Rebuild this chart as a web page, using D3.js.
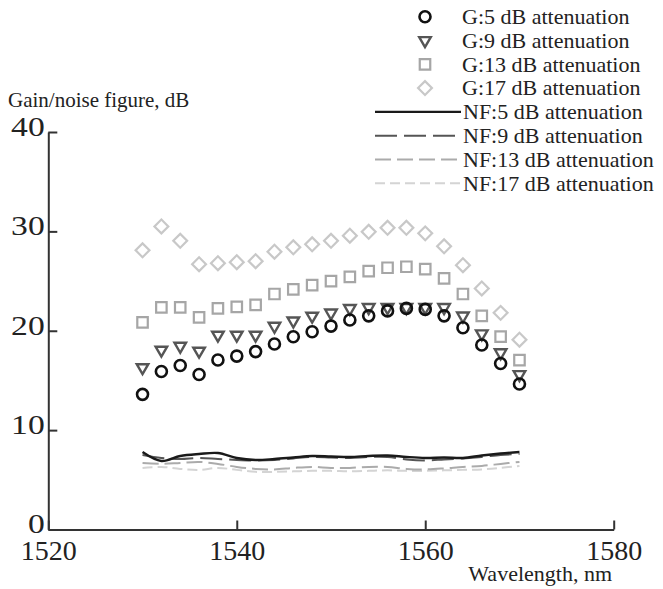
<!DOCTYPE html>
<html>
<head>
<meta charset="utf-8">
<script src="https://cdn.jsdelivr.net/npm/d3@7"></script>
<style>
  body { margin: 0; background: #fff; }
  svg text { font-family: "Liberation Serif", "Times New Roman", Times, "DejaVu Serif", serif; fill: #222; }
</style>
</head>
<body>
<div id="root"></div>
<script>
// wavelengths, nm
const wavelength = [1530, 1532, 1534, 1536, 1538, 1540, 1542, 1544, 1546, 1548, 1550,
                    1552, 1554, 1556, 1558, 1560, 1562, 1564, 1566, 1568, 1570];

// gain, dB
const g5  = [13.6, 15.9, 16.5, 15.6, 17.05, 17.45, 17.9, 18.66, 19.4, 19.9, 20.47,
             21.08, 21.5, 22.0, 22.25, 22.15, 21.5, 20.3, 18.56, 16.7, 14.64];
const g9  = [16.3, 18.06, 18.46, 17.96, 19.57, 19.57, 19.57, 20.47, 21.0, 21.48, 21.8,
             22.25, 22.35, 22.35, 22.35, 22.35, 22.35, 21.5, 19.7, 17.8, 15.6];
const g13 = [20.85, 22.35, 22.35, 21.35, 22.25, 22.4, 22.6, 23.7, 24.16, 24.6, 25.0,
             25.43, 26.0, 26.34, 26.44, 26.2, 25.27, 23.7, 21.5, 19.4, 17.05];
const g17 = [28.1, 30.5, 29.05, 26.7, 26.8, 26.9, 27.0, 27.95, 28.4, 28.7, 29.05,
             29.56, 29.96, 30.36, 30.36, 29.8, 28.5, 26.6, 24.26, 21.8, 19.1];

// noise figure, dB
const nf5  = [7.8, 6.9, 7.4, 7.6, 7.7, 7.2, 7.0, 7.1, 7.25, 7.4, 7.35,
              7.3, 7.4, 7.45, 7.3, 7.2, 7.25, 7.2, 7.45, 7.65, 7.8];
const nf9  = [7.5, 7.2, 7.1, 7.2, 7.1, 7.0, 6.95, 7.0, 7.15, 7.3, 7.25,
              7.2, 7.3, 7.3, 7.05, 6.95, 7.05, 7.15, 7.3, 7.5, 7.6];
const nf13 = [6.7, 6.6, 6.7, 6.8, 6.6, 6.3, 6.1, 6.05, 6.2, 6.3, 6.2,
              6.2, 6.3, 6.3, 6.1, 6.05, 6.15, 6.3, 6.4, 6.6, 6.8];
const nf17 = [6.2, 6.3, 6.1, 6.0, 6.2, 6.0, 5.8, 5.8, 5.85, 5.9, 5.9,
              5.85, 5.9, 5.95, 5.9, 5.9, 5.95, 6.0, 6.05, 6.2, 6.4];

const gainLabels = ["G:5 dB attenuation", "G:9 dB attenuation", "G:13 dB attenuation", "G:17 dB attenuation"];
const nfLabels = ["NF:5 dB attenuation", "NF:9 dB attenuation", "NF:13 dB attenuation", "NF:17 dB attenuation"];

const xTicks = [1520, 1540, 1560, 1580];
const yTicks = [0, 10, 20, 30, 40];

const width = 663, height = 589;
const plot = { left: 48.3, right: 613.7, bottom: 529.5, top: 132 };
const serif = "'Liberation Serif', 'Times New Roman', Times, serif";

const svg = d3.select("#root")
    .append("svg")
    .attr("width", width)
    .attr("height", height);

const x = d3.scaleLinear().domain([1520, 1580]).range([plot.left, plot.right]);
const y = d3.scaleLinear().domain([0, 40]).range([plot.bottom, plot.top]);

// axes
const xAxis = svg.append("g")
    .attr("transform", "translate(0," + plot.bottom + ")")
    .call(d3.axisBottom(x).tickValues(xTicks).tickFormat(d3.format("d"))
        .tickSizeInner(-9).tickSizeOuter(0).tickPadding(11));
const yAxis = svg.append("g")
    .attr("transform", "translate(" + plot.left + ",0)")
    .call(d3.axisLeft(y).tickValues(yTicks)
        .tickSizeInner(-9).tickSizeOuter(0).tickPadding(3));

[xAxis, yAxis].forEach(function(a) {
    a.attr("font-family", serif);
    a.select(".domain").attr("stroke", "#333").attr("stroke-width", 2);
    a.selectAll(".tick line").attr("stroke", "#333").attr("stroke-width", 2);
    a.selectAll(".tick text")
        .attr("fill", "#222")
        .style("font-family", serif)
        .style("font-size", "28px");
});
// y labels in the reference are set a little wider
yAxis.selectAll(".tick text")
    .attr("dy", "0.12em")
    .attr("transform", "scale(1.2,1)");

svg.append("text")
    .attr("x", 8).attr("y", 107)
    .style("font-family", serif)
    .style("font-size", "21px")
    .text("Gain/noise figure, dB");
svg.append("text")
    .attr("x", 612).attr("y", 581)
    .attr("text-anchor", "end")
    .style("font-family", serif)
    .style("font-size", "22px")
    .text("Wavelength, nm");

// noise figure lines
const nfSeries = [
    { values: nf17, color: "#d4d4d4", dash: "10,5", width: 2 },
    { values: nf13, color: "#ababab", dash: "16,6", width: 2 },
    { values: nf9,  color: "#555",    dash: "22,7", width: 2 },
    { values: nf5,  color: "#1a1a1a", dash: null,   width: 2.4 }
];
const line = d3.line()
    .x(function(d, i) { return x(wavelength[i]); })
    .y(function(d) { return y(d); })
    .curve(d3.curveCatmullRom);

nfSeries.forEach(function(s) {
    svg.append("path")
        .datum(s.values)
        .attr("fill", "none")
        .attr("stroke", s.color)
        .attr("stroke-width", s.width)
        .attr("stroke-dasharray", s.dash)
        .attr("d", line);
});

// gain markers
const gainSeries = [
    { values: g17, color: "#c8c8c8", type: d3.symbolSquare,   size: 96,  rotate: 45,  sw: 2.2 },
    { values: g13, color: "#a6a6a6", type: d3.symbolSquare,   size: 110, rotate: 0,   sw: 2.2 },
    { values: g9,  color: "#555",    type: d3.symbolTriangle, size: 58,  rotate: 180, sw: 2.4 },
    { values: g5,  color: "#111",    type: d3.symbolCircle,   size: 95,  rotate: 0,   sw: 2.6 }
];

gainSeries.forEach(function(s) {
    svg.append("g")
        .selectAll("path")
        .data(s.values)
        .enter()
        .append("path")
        .attr("d", d3.symbol().type(s.type).size(s.size))
        .attr("transform", function(d, i) {
            return "translate(" + x(wavelength[i]) + "," + y(d) + ")rotate(" + s.rotate + ")";
        })
        .attr("fill", "none")
        .attr("stroke", s.color)
        .attr("stroke-width", s.sw);
});

// legend
const legend = svg.append("g");
const rowY = function(i) { return 16.7 + i * 23.8; };
const legendMarkers = gainSeries.slice().reverse();

legendMarkers.forEach(function(s, i) {
    legend.append("path")
        .attr("d", d3.symbol().type(s.type).size(s.size))
        .attr("transform", "translate(425," + rowY(i) + ")rotate(" + s.rotate + ")")
        .attr("fill", "none")
        .attr("stroke", s.color)
        .attr("stroke-width", s.sw);
    legend.append("text")
        .attr("x", 462).attr("y", rowY(i))
        .attr("dy", "0.33em")
        .style("font-family", serif)
        .style("font-size", "22px")
        .text(gainLabels[i]);
});

nfSeries.slice().reverse().forEach(function(s, i) {
    const yy = rowY(i + 4);
    legend.append("line")
        .attr("x1", 375).attr("x2", 461)
        .attr("y1", yy).attr("y2", yy)
        .attr("stroke", s.color)
        .attr("stroke-width", s.width)
        .attr("stroke-dasharray", s.dash);
    legend.append("text")
        .attr("x", 463).attr("y", yy)
        .attr("dy", "0.33em")
        .style("font-family", serif)
        .style("font-size", "22px")
        .text(nfLabels[i]);
});
</script>
</body>
</html>
